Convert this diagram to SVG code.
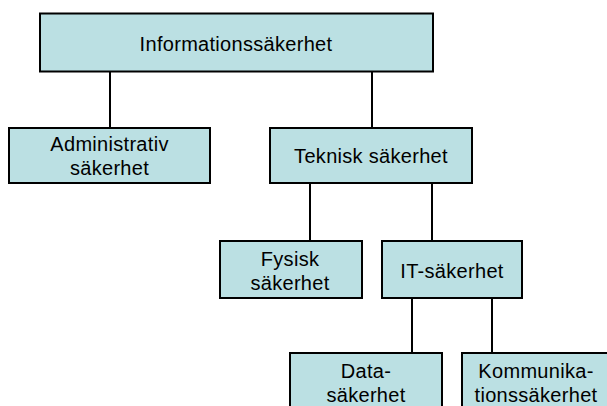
<svg xmlns="http://www.w3.org/2000/svg" width="607" height="406" viewBox="0 0 607 406">
<style>
.box{fill:#BBE0E3;stroke:#000;stroke-width:2}
.t{font-family:"Liberation Sans",Arial,sans-serif;font-size:20px;letter-spacing:0.3px;fill:#000;text-anchor:middle}
.c{stroke:#000;stroke-width:2;fill:none}
</style>
<rect width="607" height="406" fill="#fff"/>
<g id="connectors">
<line class="c" x1="110" y1="71" x2="110" y2="128"/>
<line class="c" x1="372" y1="71" x2="372" y2="128"/>
<line class="c" x1="310" y1="183" x2="310" y2="241"/>
<line class="c" x1="432" y1="183" x2="432" y2="241"/>
<line class="c" x1="412" y1="298" x2="412" y2="353"/>
<line class="c" x1="492" y1="298" x2="492" y2="353"/>
</g>
<g id="informationssakerhet">
<rect class="box" x="40" y="13.5" width="393" height="58"/>
<text class="t" x="236" y="51">Informationssäkerhet</text>
</g>
<g id="administrativ">
<rect class="box" x="9" y="128" width="201" height="55"/>
<text class="t" x="109.5" y="151">Administrativ</text>
<text class="t" x="109.5" y="175">säkerhet</text>
</g>
<g id="teknisk">
<rect class="box" x="270" y="128" width="202" height="55"/>
<text class="t" x="371" y="162.5">Teknisk säkerhet</text>
</g>
<g id="fysisk">
<rect class="box" x="220" y="241" width="142" height="57"/>
<text class="t" x="290" y="266">Fysisk</text>
<text class="t" x="290" y="290">säkerhet</text>
</g>
<g id="it">
<rect class="box" x="382" y="241" width="140" height="57"/>
<text class="t" x="452" y="278">IT-säkerhet</text>
</g>
<g id="data">
<rect class="box" x="290" y="353" width="152" height="70"/>
<text class="t" x="366" y="378">Data-</text>
<text class="t" x="366" y="402">säkerhet</text>
</g>
<g id="kommunikation">
<rect class="box" x="462" y="353" width="150" height="70"/>
<text class="t" x="536" y="378">Kommunika-</text>
<text class="t" x="536" y="402">tionssäkerhet</text>
</g>
</svg>
